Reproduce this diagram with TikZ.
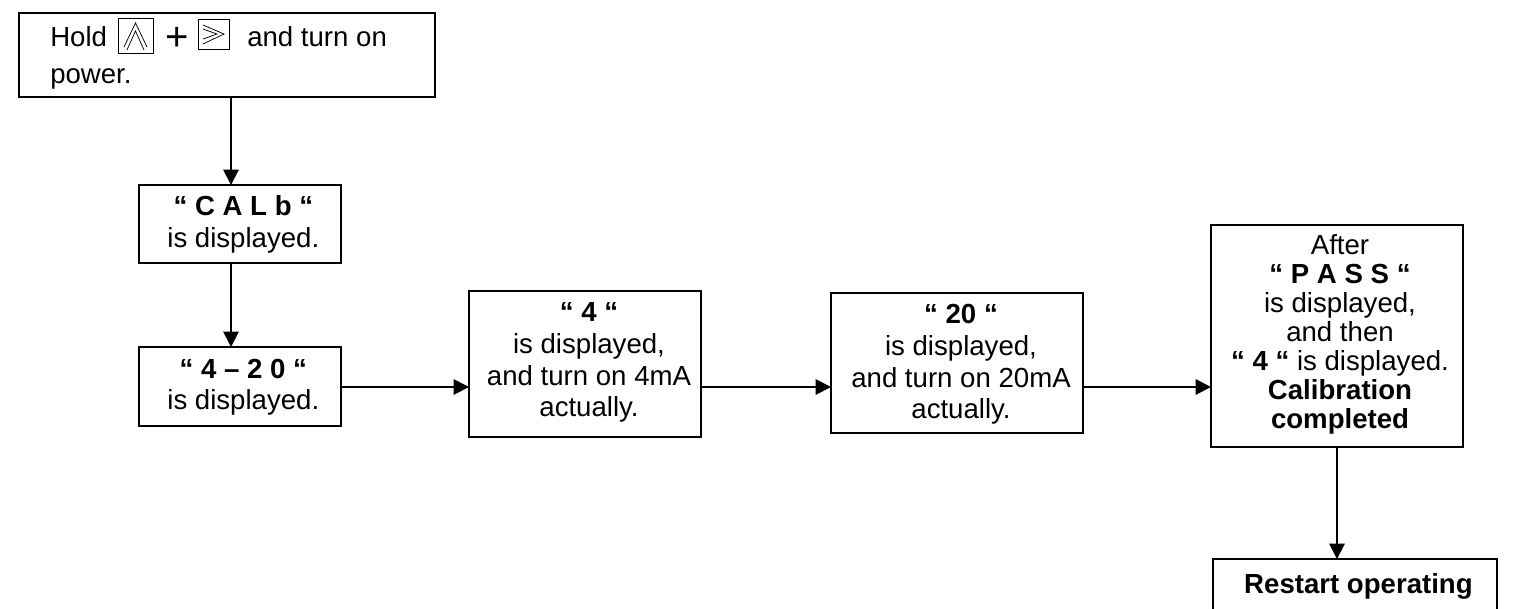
\documentclass[tikz,border=0pt]{standalone}
\usepackage{fontspec}
\setmainfont{Liberation Sans}
\usetikzlibrary{arrows.meta}
\newcommand{\bodyfont}{\fontsize{20.7}{23.8}\selectfont}
\newcommand{\tightfont}{\fontsize{20.7}{21.8}\selectfont}
% #1 = sideways offset x2, #2 = raise, #3 = lines
\newcommand{\boxtext}[3]{\raisebox{#2}[0pt][0pt]{\makebox[0pt]{\hspace*{#1}\begin{tabular}{@{}c@{}}#3\end{tabular}}}}
\tikzset{
  x=0.75pt,y=-0.75pt,
  box/.style={draw=black,line width=1.4pt,inner sep=0pt,outer sep=0pt,font=\bodyfont},
  flow/.style={draw=black,line width=1.4pt,-{Triangle[length=11.5pt,width=11.5pt]}},
  txt/.style={inner sep=0pt,anchor=base west,font=\bodyfont},
  keybox/.style={draw=black,line width=0.7pt},
  chev/.style={draw=black,line width=0.55pt}
}
\begin{document}
\begin{tikzpicture}
\useasboundingbox (0,0) rectangle (1516,608);
\clip (0,0) rectangle (1516,608);
% boxes
\node[box,minimum width=312pt,minimum height=63pt] (a) at (227,55) {};
\node[box,minimum width=151.5pt,minimum height=58.5pt] (b) at (240,224)
  {\boxtext{5pt}{-6.1pt}{\textbf{“ C A L b “}\\is displayed.}};
\node[box,minimum width=151.5pt,minimum height=59.25pt] (c) at (240,386.5)
  {\boxtext{5pt}{-6.0pt}{\textbf{“ 4 – 2 0 “}\\is displayed.}};
\node[box,minimum width=174pt,minimum height=109.5pt] (d) at (585,364)
  {\boxtext{6pt}{-4.46pt}{\textbf{“ 4 “}\\is displayed,\\and turn on 4mA\\actually.}};
\node[box,minimum width=189pt,minimum height=105pt] (e) at (957,363)
  {\boxtext{6pt}{-6.7pt}{\textbf{“ 20 “}\\is displayed,\\and turn on 20mA\\actually.}};
\node[box,font=\tightfont,minimum width=189pt,minimum height=166.5pt] (f) at (1337,336)
  {\boxtext{4.5pt}{-4.84pt}{After\\\textbf{“ P A S S “}\\is displayed,\\and then\\\textbf{“ 4 “} is displayed.\\\textbf{Calibration}\\\textbf{completed}}};
\node[box,minimum width=213pt,minimum height=60.75pt] (g) at (1355,599.5)
  {\boxtext{5.2pt}{3.8pt}{\textbf{Restart operating}}};
% guide lines for the connectors
\coordinate (spine) at (231,0);
\coordinate (row) at (0,387);
\coordinate (drop) at (1337,0);
% first box contents
\node[txt] (t1) at (50,46) {Hold};
\node[txt,font=\fontsize{30}{32}\selectfont] (plus) at (165,50) {+};
\node[txt] (t2) at (247,46) {and turn on};
\node[txt] (t3) at (50,83.5) {power.};
\draw[keybox] (118.5,18.5) rectangle (153,53);
\draw[chev] (124,47) -- (135.5,23) -- (147,47) (127,50) -- (135.5,31) -- (144,50);
\draw[keybox] (198,19.5) rectangle (229,49);
\draw[chev] (203,25) -- (224,34) -- (203,44) (203,29) -- (217,34) -- (203,39);
% connectors
\draw[flow] (a.south -| spine) -- (b.north -| spine);
\draw[flow] (b.south -| spine) -- (c.north -| spine);
\draw[flow] (c.east |- row) -- (d.west |- row);
\draw[flow] (d.east |- row) -- (e.west |- row);
\draw[flow] (e.east |- row) -- (f.west |- row);
\draw[flow] (f.south -| drop) -- (g.north -| drop);
\end{tikzpicture}
\end{document}
